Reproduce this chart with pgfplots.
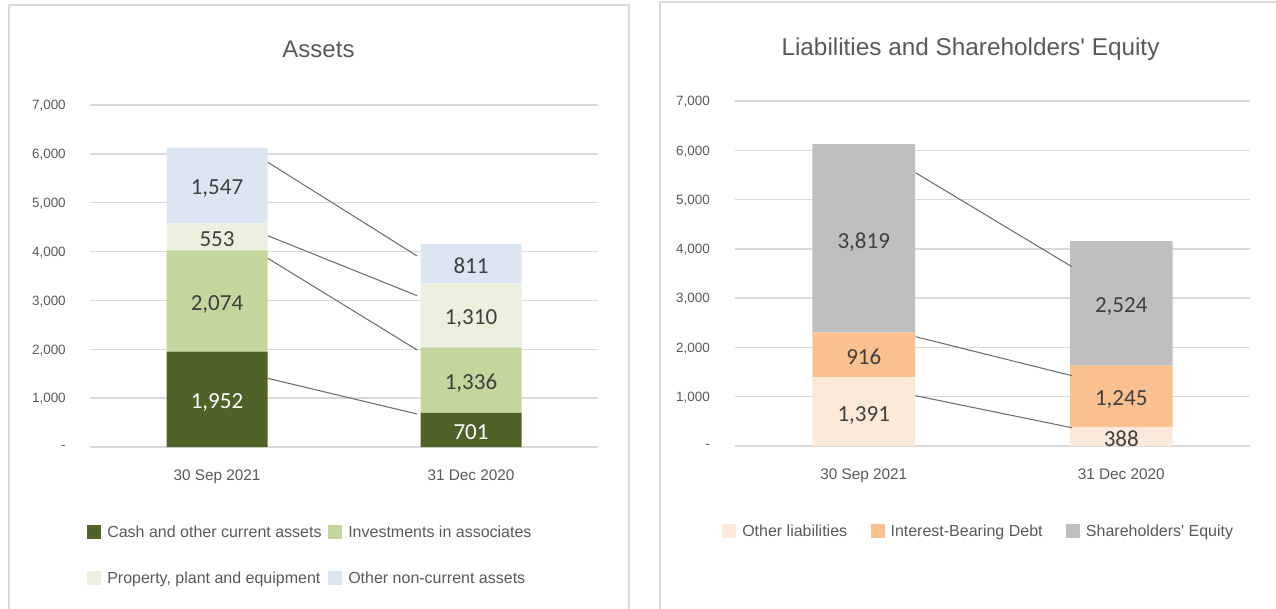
\documentclass[border=0pt]{standalone}
\usepackage{pgfplots}
\pgfplotsset{compat=1.18}
\usepackage{fontspec}
\setmainfont{Liberation Sans}
\newfontfamily\calibri{Carlito}
\definecolor{cash}{HTML}{4F6228}
\definecolor{inv}{HTML}{C3D69B}
\definecolor{ppe}{HTML}{EBF1DE}
\definecolor{onc}{HTML}{DCE6F2}
\definecolor{oliab}{HTML}{FDE9D9}
\definecolor{ibd}{HTML}{FAC090}
\definecolor{equity}{HTML}{BFBFBF}
\definecolor{txt}{HTML}{595959}
\definecolor{lab}{HTML}{404040}
\definecolor{gridc}{HTML}{D9D9D9}
\definecolor{borderc}{HTML}{D9D9D9}
\definecolor{linec}{HTML}{6E6E6E}
\pgfplotsset{
  common/.style={scale only axis, xmin=-0.5, xmax=1.5, ymin=0, ymax=7000},
  barax/.style={common, ybar stacked,
    axis line style={draw=none}, major tick length=0pt,
    xtick={0,1}, xticklabels={30 Sep 2021, 31 Dec 2020},
    ytick={0,1000,...,7000},
    yticklabels={{-\hspace{3.75pt}},{1,000},{2,000},{3,000},{4,000},{5,000},{6,000},{7,000}},
    ymajorgrids, grid style={draw=gridc, line width=1pt},
    yticklabel style={anchor=east, inner sep=0pt, text depth=0pt, font=\fontsize{10.1}{12}\selectfont, text=txt},
    xticklabel style={anchor=center, inner sep=0pt, yshift=-21pt, text depth=0pt, font=\fontsize{11.5}{13}\selectfont, text=txt},
    title style={anchor=center, inner sep=0pt, text depth=0pt, font=\fontsize{18}{21}\selectfont, text=txt},
    legend cell align=left,
    legend image code/.code={\fill[##1] (0pt,-5.25pt) rectangle (10.5pt,5.25pt);},
  },
  labl/.style={draw=none, nodes near coords, point meta=explicit symbolic,
    every node near coord/.append style={anchor=center, inner sep=0pt, text depth=0pt, yshift=-1.5pt, font=\calibri\fontsize{17.25}{20}\selectfont, text=#1}},
}
\begin{document}
\begin{tikzpicture}
\path[use as bounding box] (0,0) rectangle (957pt,-456pt);
\draw[line width=1.25pt, draw=borderc] (6.75pt,-3.75pt) rectangle (471.75pt,-480pt);
\draw[line width=1.25pt, draw=borderc] (495pt,-1.5pt) rectangle (990pt,-480pt);

% ---------- Assets ----------
\begin{axis}[barax, at={(67.5pt,-335.25pt)}, anchor=south west, width=381pt, height=256.5pt,
  bar width=75.75pt,
  yticklabel style={xshift=-18pt},
  title={Assets}, title style={at={(axis description cs:0.4498,1.1403)}},
  legend columns=2,
  legend style={at={(axis description cs:-0.0059,-0.3158)}, anchor=west, draw=none, fill=none, inner sep=0pt,
    font=\fontsize{12}{14}\selectfont, text=txt, row sep=24pt,
    nodes={inner sep=0pt, text depth=0pt},
    /tikz/every odd column/.append style={column sep=4.5pt},
    /tikz/every even column/.append style={column sep=5pt}},
]
\addplot[fill=cash, draw=none] coordinates {(0,1952) (1,701)};
\addplot[fill=inv, draw=none] coordinates {(0,2074) (1,1336)};
\addplot[fill=ppe, draw=none] coordinates {(0,553) (1,1310)};
\addplot[fill=onc, draw=none] coordinates {(0,1547) (1,811)};
\legend{Cash and other current assets, Investments in associates, {Property, plant and equipment}, Other non-current assets}
\end{axis}
\begin{axis}[common, at={(67.5pt,-335.25pt)}, anchor=south west, width=381pt, height=256.5pt, hide axis, clip=false]
\addplot[linec, line width=0.8pt] coordinates {(0.2,5828) (0.788,3910)};
\addplot[linec, line width=0.8pt] coordinates {(0.2,4325) (0.788,3097)};
\addplot[linec, line width=0.8pt] coordinates {(0.2,3863) (0.788,1986)};
\addplot[linec, line width=0.8pt] coordinates {(0.2,1406) (0.788,675)};
\addplot[labl=white] coordinates {(0,976) [1,952] (1,350.5) [701]};
\addplot[labl=lab] coordinates {(0,2989) [2,074] (0,4302.5) [553] (0,5352.5) [1,547] (1,1369) [1,336] (1,2692) [1,310] (1,3752.5) [811]};
\end{axis}

% ---------- Liabilities ----------
\begin{axis}[barax, at={(551.25pt,-334.5pt)}, anchor=south west, width=386.25pt, height=258.75pt,
  bar width=76.9pt,
  yticklabel style={xshift=-18.75pt},
  title={Liabilities and Shareholders\textquotesingle\ Equity}, title style={at={(axis description cs:0.4573,1.1333)}, font=\fontsize{18.25}{21}\selectfont},
  legend columns=3,
  legend style={at={(axis description cs:-0.0252,-0.2464)}, anchor=west, draw=none, fill=none, inner sep=0pt,
    font=\fontsize{12}{14}\selectfont, text=txt,
    nodes={inner sep=0pt, text depth=0pt},
    /tikz/every odd column/.append style={column sep=4.5pt},
    /tikz/every even column/.append style={column sep=17.5pt}},
]
\addplot[fill=oliab, draw=none] coordinates {(0,1391) (1,388)};
\addplot[fill=ibd, draw=none] coordinates {(0,916) (1,1245)};
\addplot[fill=equity, draw=none] coordinates {(0,3819) (1,2524)};
\legend{Other liabilities, Interest-Bearing Debt, Shareholders\textquotesingle\ Equity}
\end{axis}
\begin{axis}[common, at={(551.25pt,-334.5pt)}, anchor=south west, width=386.25pt, height=258.75pt, hide axis, clip=false]
\addplot[linec, line width=0.8pt] coordinates {(0.201,5545) (0.8085,3638)};
\addplot[linec, line width=0.8pt] coordinates {(0.201,2218) (0.8085,1427)};
\addplot[linec, line width=0.8pt] coordinates {(0.201,1021) (0.8085,371)};
\addplot[labl=lab] coordinates {(0,695.5) [1,391] (0,1849) [916] (0,4216.5) [3,819] (1,194) [388] (1,1010.5) [1,245] (1,2895) [2,524]};
\end{axis}
\end{tikzpicture}
\end{document}
